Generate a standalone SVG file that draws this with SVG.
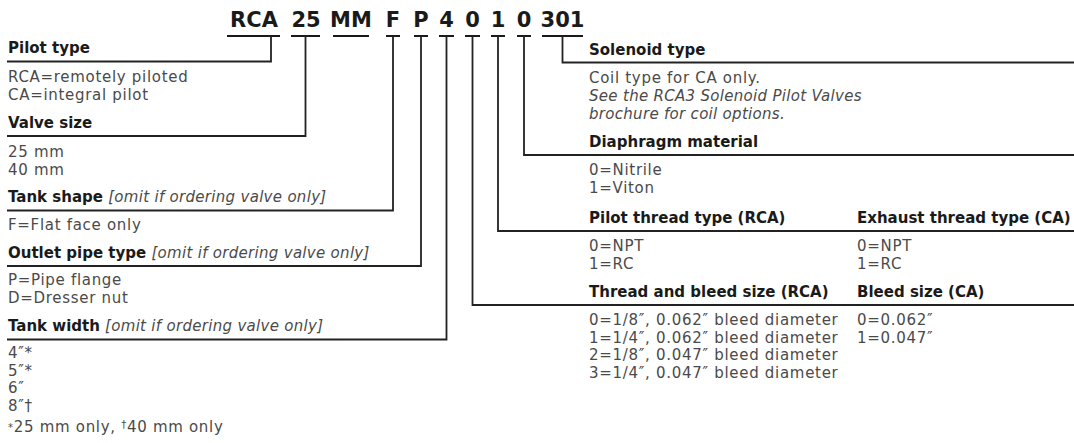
<svg xmlns="http://www.w3.org/2000/svg" width="1074" height="443" viewBox="0 0 1074 443">
<style>
text{font-family:"DejaVu Sans","Liberation Sans",sans-serif}
.code{font-size:21px;font-weight:bold;fill:#1a1a1a;text-anchor:middle}
.h{font-size:15px;font-weight:bold;fill:#1a1a1a}
.t{font-size:15px;fill:#4a4a4a;letter-spacing:0.7px}
.it{font-style:italic;font-weight:normal;fill:#4a4a4a;letter-spacing:0.3px}
.sup{font-size:10px}
.ul{stroke:#1a1a1a;stroke-width:2.2;fill:none}
.ln{stroke:#222;stroke-width:1.8;fill:none}
</style>
<rect width="1074" height="443" fill="#fff"/>
<g id="code">
<text class="code" x="254" y="27">RCA</text>
<text class="code" x="306" y="27">25</text>
<text class="code" x="351" y="27">MM</text>
<text class="code" x="393" y="27">F</text>
<text class="code" x="421" y="27">P</text>
<text class="code" x="446.5" y="27">4</text>
<text class="code" x="472.5" y="27">0</text>
<text class="code" x="498" y="27">1</text>
<text class="code" x="524" y="27">0</text>
<text class="code" x="562.5" y="27">301</text>
<path class="ul" d="M227 36H280M291 36H320M333 36H369M386 36H400M414 36H428M439 36H454M465 36H480M491 36H505M517 36H531M542 36H583"/>
</g>
<g id="connectors">
<path class="ln" d="M271 36V61.5H7"/>
<path class="ln" d="M305.5 36V136H7"/>
<path class="ln" d="M393 36V210.5H7"/>
<path class="ln" d="M421 36V266H7"/>
<path class="ln" d="M446.5 36V339.5H7"/>
<path class="ln" d="M472.5 36V305H1074"/>
<path class="ln" d="M498 36V231H1074"/>
<path class="ln" d="M524 36V155H1074"/>
<path class="ln" d="M562.5 36V62.5H1074"/>
</g>
<g id="pilot-type">
<text class="h" x="8" y="53">Pilot type</text>
<text class="t" x="8" y="82">RCA=remotely piloted</text>
<text class="t" x="8" y="99.5">CA=integral pilot</text>
</g>
<g id="valve-size">
<text class="h" x="8" y="127.5">Valve size</text>
<text class="t" x="8" y="157">25 mm</text>
<text class="t" x="8" y="174.5">40 mm</text>
</g>
<g id="tank-shape">
<text class="h" x="8" y="202">Tank shape <tspan class="it">[omit if ordering valve only]</tspan></text>
<text class="t" x="8" y="230">F=Flat face only</text>
</g>
<g id="outlet-pipe-type">
<text class="h" x="8" y="257.5">Outlet pipe type <tspan class="it">[omit if ordering valve only]</tspan></text>
<text class="t" x="8" y="285">P=Pipe flange</text>
<text class="t" x="8" y="302.5">D=Dresser nut</text>
</g>
<g id="tank-width">
<text class="h" x="8" y="331">Tank width <tspan class="it">[omit if ordering valve only]</tspan></text>
<text class="t" x="8" y="358">4″*</text>
<text class="t" x="8" y="375.5">5″*</text>
<text class="t" x="8" y="393">6″</text>
<text class="t" x="8" y="410.5">8″†</text>
<text class="t" x="8" y="432"><tspan class="sup" dy="-1">*</tspan><tspan dy="1">25 mm only, </tspan><tspan class="sup" dy="-4">†</tspan><tspan dy="4">40 mm only</tspan></text>
</g>
<g id="solenoid-type">
<text class="h" x="589" y="55">Solenoid type</text>
<text class="t" x="589" y="83">Coil type for CA only.</text>
<text class="t it" x="589" y="101">See the RCA3 Solenoid Pilot Valves</text>
<text class="t it" x="589" y="119">brochure for coil options.</text>
</g>
<g id="diaphragm-material">
<text class="h" x="589" y="147">Diaphragm material</text>
<text class="t" x="589" y="175">0=Nitrile</text>
<text class="t" x="589" y="192.5">1=Viton</text>
</g>
<g id="pilot-thread-type">
<text class="h" x="589" y="222.5">Pilot thread type (RCA)</text>
<text class="t" x="589" y="251">0=NPT</text>
<text class="t" x="589" y="268.5">1=RC</text>
<text class="h" x="857" y="222.5">Exhaust thread type (CA)</text>
<text class="t" x="857" y="251">0=NPT</text>
<text class="t" x="857" y="268.5">1=RC</text>
</g>
<g id="thread-bleed-size">
<text class="h" x="589" y="296.5">Thread and bleed size (RCA)</text>
<text class="t" x="589" y="325">0=1/8″, 0.062″ bleed diameter</text>
<text class="t" x="589" y="342.5">1=1/4″, 0.062″ bleed diameter</text>
<text class="t" x="589" y="360">2=1/8″, 0.047″ bleed diameter</text>
<text class="t" x="589" y="377.5">3=1/4″, 0.047″ bleed diameter</text>
<text class="h" x="857" y="296.5">Bleed size (CA)</text>
<text class="t" x="857" y="325">0=0.062″</text>
<text class="t" x="857" y="342.5">1=0.047″</text>
</g>
</svg>
